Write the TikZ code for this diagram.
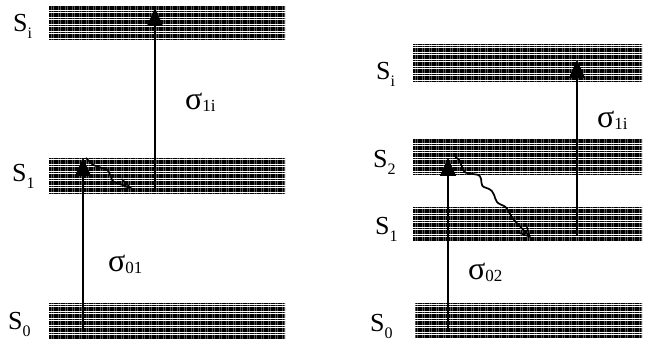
\documentclass[tikz,border=0pt]{standalone}
\usepackage{fontspec}
\setmainfont{Liberation Serif}
\usetikzlibrary{arrows.meta,patterns.meta}
\tikzset{
  band/.style={draw=none, inner sep=0pt, minimum width=#1, pattern={Lines[angle=0,distance=1.75pt,line width=1.2pt]}},
  lvl/.style={anchor=base west, inner sep=0pt, font=\fontsize{26}{26}\selectfont},
  sig/.style={anchor=base west, inner sep=0pt, font=\fontsize{32}{32}\selectfont},
  uparrow/.style={line width=1.2pt, -{Triangle[length=18pt,width=16pt]}},
  relax/.style={line width=1.7pt, rounded corners=1.5pt, -{Straight Barb[length=11pt,width=11pt,line width=1.5pt]}},
}
\newcommand{\lsub}[1]{\raisebox{-7pt}{\fontsize{16}{16}\selectfont #1}}
\newcommand{\ssub}[1]{\raisebox{-2pt}{\fontsize{17}{17}\selectfont #1}}
\begin{document}
\begin{tikzpicture}[x=1pt,y=-1pt]
\useasboundingbox (0,0) rectangle (645,344);
% left diagram bands
\node[band=236pt, minimum height=35pt] (LSi) at (167,23.5) {};
\node[band=236pt, minimum height=35pt] (LS1) at (167,176.5) {};
\node[band=236pt, minimum height=36pt] (LS0) at (167,321) {};
% right diagram bands
\node[band=229pt, minimum height=37pt] (RSi) at (527.5,63.5) {};
\node[band=229pt, minimum height=36pt] (RS2) at (527.5,157) {};
\node[band=229pt, minimum height=34pt] (RS1) at (527.5,224) {};
\node[band=227pt, minimum height=35pt] (RS0) at (528.5,320.5) {};
% level labels
\node[lvl] (tLSi) at (13,32) {S\lsub{i}};
\node[lvl] (tLS1) at (12,182) {S\lsub{1}};
\node[lvl] (tLS0) at (8,330) {S\lsub{0}};
\node[lvl] (tRSi) at (376,80) {S\lsub{i}};
\node[lvl] (tRS2) at (373,168) {S\lsub{2}};
\node[lvl] (tRS1) at (375,235) {S\lsub{1}};
\node[lvl] (tRS0) at (370,332) {S\lsub{0}};
% arrow end points
\coordinate (a1s) at (155,188); \coordinate (a1e) at (155,8);
\coordinate (a2s) at (83,332);  \coordinate (a2e) at (83,158);
\coordinate (b1s) at (577,236); \coordinate (b1e) at (577,60);
\coordinate (b2s) at (448,332); \coordinate (b2e) at (448,158);
\draw[uparrow] (a1s) -- (a1e);
\draw[uparrow] (a2s) -- (a2e);
\draw[uparrow] (b1s) -- (b1e);
\draw[uparrow] (b2s) -- (b2e);
% relaxation (wavy) arrows
\coordinate (w1s) at (86,158);
\coordinate (w1e) at (132,188);
\draw[relax] (w1s) -- (93,165) -- (108,170) -- (113,182) -- (w1e);
\coordinate (w2s) at (455,158);
\coordinate (w2e) at (531,238);
\draw[relax] (w2s) -- (458,158) .. controls (462,165) and (463,172) .. (467,173) -- (479,175)
  .. controls (483,180) and (479,186) .. (487,188) -- (491,190)
  .. controls (496,196) and (494,202) .. (502,205) -- (506,207) -- (513,219) -- (w2e);
% cross-section labels
\node[sig] (s1) at (185,110) {σ\ssub{1i}};
\node[sig] (s2) at (108,272) {σ\ssub{01}};
\node[sig] (s3) at (597,128) {σ\ssub{1i}};
\node[sig] (s4) at (468,280) {σ\ssub{02}};
\end{tikzpicture}
\end{document}
